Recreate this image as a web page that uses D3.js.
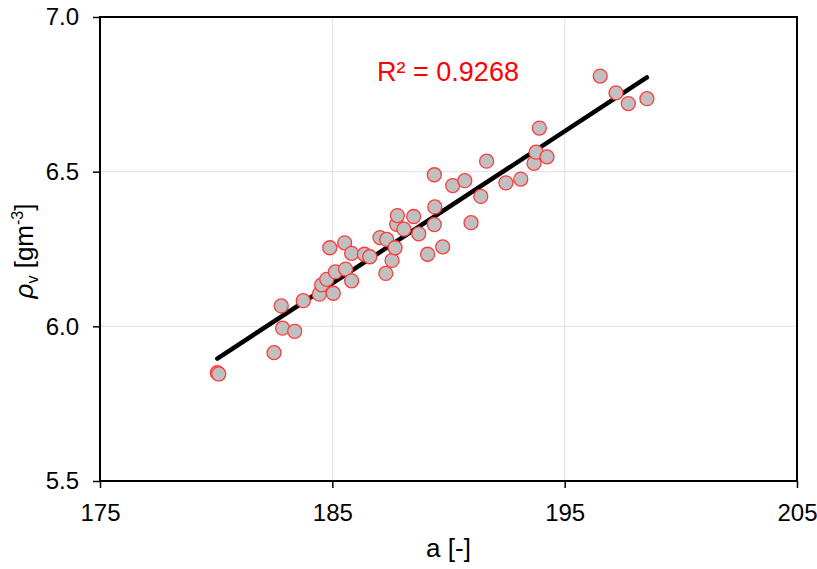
<!DOCTYPE html>
<html>
<head>
<meta charset="utf-8">
<script src="https://cdn.jsdelivr.net/npm/d3@7"></script>
<style>
  body { margin: 0; background: #fff; }
  text { font-family: "Liberation Sans", Arial, sans-serif; }
</style>
</head>
<body>
<script>
// measured samples: a [-] and rho_v [g m^-3]
var aValues = [180.05, 180.11, 182.49, 182.80, 182.86, 183.38, 183.75, 184.44, 184.54, 184.76,
               184.89, 185.04, 185.13, 185.57, 185.53, 185.83, 185.83, 186.38, 186.61, 187.05,
               187.34, 187.30, 187.57, 187.70, 187.77, 187.80, 188.08, 188.50, 188.72, 189.10,
               189.39, 189.41, 189.39, 189.75, 190.18, 190.70, 190.97, 191.39, 191.64, 192.47,
               193.11, 193.68, 193.77, 193.91, 194.24, 196.53, 197.21, 197.74, 198.54];
var rhoValues = [5.850, 5.846, 5.915, 6.066, 5.994, 5.984, 6.083, 6.104, 6.134, 6.152,
                 6.254, 6.107, 6.176, 6.185, 6.270, 6.236, 6.147, 6.233, 6.225, 6.287,
                 6.281, 6.171, 6.213, 6.254, 6.330, 6.358, 6.314, 6.355, 6.299, 6.233,
                 6.490, 6.386, 6.329, 6.257, 6.455, 6.471, 6.335, 6.420, 6.534, 6.464,
                 6.476, 6.527, 6.563, 6.641, 6.548, 6.809, 6.755, 6.720, 6.736];
var xTicks = [175, 185, 195, 205];
var yTicks = [5.5, 6.0, 6.5, 7.0];
var r2Label = "R² = 0.9268";

var svgW = 817, svgH = 569;
var plotL = 100, plotR = 797, plotT = 17, plotB = 481;

var x = d3.scaleLinear().domain([175, 205]).range([plotL, plotR]);
var y = d3.scaleLinear().domain([5.5, 7.0]).range([plotB, plotT]);

var svg = d3.select("body").append("svg")
  .attr("width", svgW)
  .attr("height", svgH);

// grid
svg.append("g").selectAll("line").data(xTicks.slice(1, -1)).enter().append("line")
  .attr("x1", d => x(d)).attr("x2", d => x(d))
  .attr("y1", plotT).attr("y2", plotB)
  .attr("stroke", "#e2e2e2").attr("stroke-width", 1);
svg.append("g").selectAll("line").data(yTicks.slice(1, -1)).enter().append("line")
  .attr("x1", plotL).attr("x2", plotR)
  .attr("y1", d => y(d)).attr("y2", d => y(d))
  .attr("stroke", "#e2e2e2").attr("stroke-width", 1);

// axes
var xAxis = svg.append("g")
  .attr("transform", "translate(0," + plotB + ")")
  .call(d3.axisBottom(x).tickValues(xTicks).tickFormat(d3.format("d")).tickSize(7).tickPadding(16));
var yAxis = svg.append("g")
  .attr("transform", "translate(" + plotL + ",0)")
  .call(d3.axisLeft(y).tickValues(yTicks).tickFormat(d3.format(".1f")).tickSize(7).tickPadding(14));

[xAxis, yAxis].forEach(function (g) {
  g.select(".domain").remove();
  g.selectAll(".tick line").attr("stroke", "#000").attr("stroke-width", 1.5);
  g.selectAll(".tick text")
    .attr("fill", "#000")
    .style("font-size", "24px")
    .style("font-family", "'Liberation Sans', Arial, sans-serif");
});

// frame
svg.append("rect")
  .attr("x", plotL).attr("y", plotT)
  .attr("width", plotR - plotL).attr("height", plotB - plotT)
  .attr("fill", "none").attr("stroke", "#000").attr("stroke-width", 2);

// linear fit
var n = aValues.length;
var mx = d3.mean(aValues), my = d3.mean(rhoValues);
var sxy = 0, sxx = 0;
for (var i = 0; i < n; i++) {
  sxy += (aValues[i] - mx) * (rhoValues[i] - my);
  sxx += (aValues[i] - mx) * (aValues[i] - mx);
}
var slope = sxy / sxx, icpt = my - slope * mx;
var ext = d3.extent(aValues);

svg.append("line")
  .attr("x1", x(ext[0])).attr("y1", y(icpt + slope * ext[0]))
  .attr("x2", x(ext[1])).attr("y2", y(icpt + slope * ext[1]))
  .attr("stroke", "#000").attr("stroke-width", 4.5).attr("stroke-linecap", "round");

// points
svg.append("g").selectAll("circle")
  .data(aValues.map((a, i) => [a, rhoValues[i]]))
  .enter().append("circle")
  .attr("cx", d => x(d[0]))
  .attr("cy", d => y(d[1]))
  .attr("r", 7)
  .attr("fill", "#c0c0c0")
  .attr("stroke", "#ff3b3b")
  .attr("stroke-width", 1.3);

// R² annotation
svg.append("text")
  .attr("x", 448).attr("y", 81)
  .attr("text-anchor", "middle")
  .attr("fill", "#ff0000")
  .style("font-size", "27px")
  .text(r2Label);

// axis titles
svg.append("text")
  .attr("x", (plotL + plotR) / 2).attr("y", 557)
  .attr("text-anchor", "middle")
  .style("font-size", "26px")
  .text("a [-]");

var yl = svg.append("text")
  .attr("transform", "translate(33,251) rotate(-90)")
  .attr("text-anchor", "middle")
  .style("font-size", "26px");
yl.append("tspan").style("font-style", "italic").text("ρ");
yl.append("tspan").attr("dy", 5).style("font-size", "16px").text("v");
yl.append("tspan").attr("dy", -5).text(" [gm");
yl.append("tspan").attr("dy", -10).style("font-size", "16px").text("-3");
yl.append("tspan").attr("dy", 10).text("]");
</script>
</body>
</html>
